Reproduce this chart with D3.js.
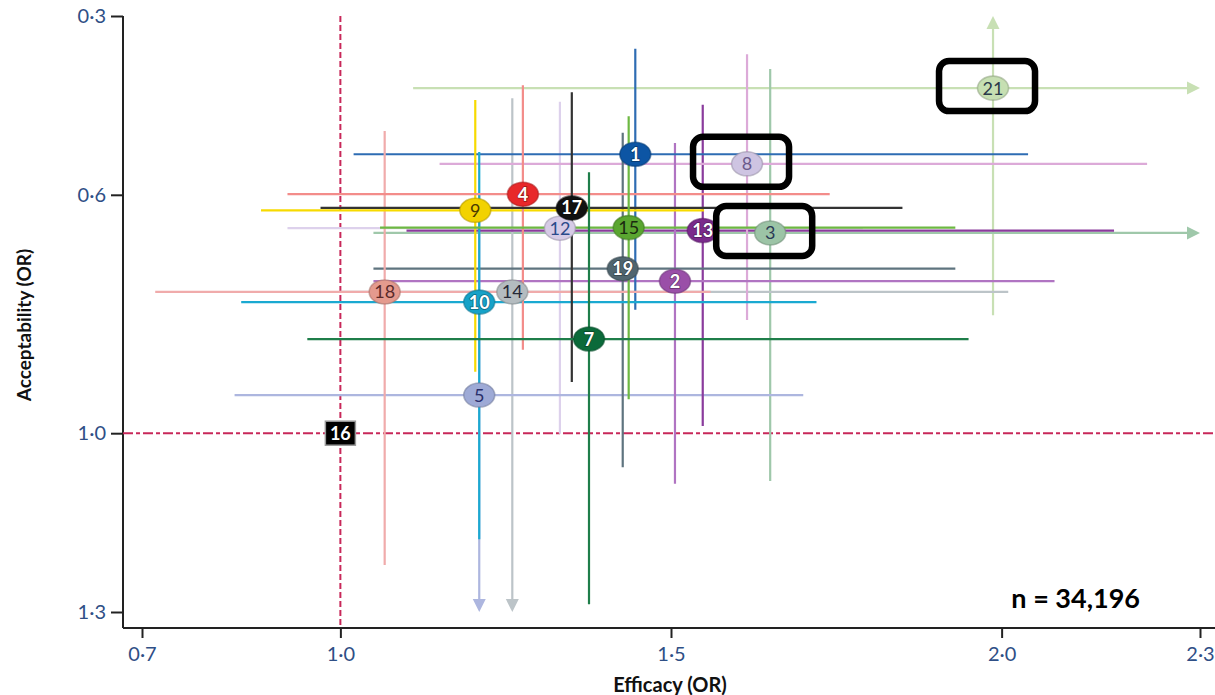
<!DOCTYPE html>
<html>
<head>
<meta charset="utf-8">
<script src="https://cdn.jsdelivr.net/npm/d3@7"></script>
<style>
  html, body { margin: 0; padding: 0; background: #fff; }
  svg { display: block; font-family: Lato, "Open Sans", "DejaVu Sans", sans-serif; }
</style>
</head>
<body>
<svg id="chart" width="1215" height="695"></svg>
<script>
// Treatment numbers and their odds ratios (point estimate with 95% CI)
const treatments   = [1, 2, 3, 4, 5, 7, 8, 9, 10, 12, 13, 14, 15, 16, 17, 18, 19, 21];
const efficacy     = [1.446, 1.506, 1.650, 1.276, 1.210, 1.376, 1.615, 1.204, 1.210, 1.332, 1.548, 1.260, 1.436, 1.00, 1.350, 1.067, 1.427, 1.987];
const efficacyLow  = [1.02, 1.05, 1.05, 0.92, 0.84, 0.95, 1.15, 0.88, 0.85, 0.92, 1.10, 1.00, 1.06, null, 0.97, 0.72, 1.05, 1.11];
const efficacyHigh = [2.04, 2.08, 2.52, 1.74, 1.70, 1.95, 2.22, 1.55, 1.72, 1.79, 2.17, 2.01, 1.93, null, 1.85, 1.56, 1.93, 2.61];
const accept       = [0.532, 0.745, 0.664, 0.599, 0.936, 0.842, 0.548, 0.626, 0.780, 0.656, 0.660, 0.763, 0.655, 1.00, 0.622, 0.763, 0.724, 0.421];
const acceptLow    = [0.355, 0.513, 0.389, 0.416, 0.600, 0.562, 0.364, 0.441, 0.528, 0.444, 0.449, 0.438, 0.468, null, 0.428, 0.493, 0.496, 0.22];
const acceptHigh   = [0.793, 1.085, 1.080, 0.860, 1.42, 1.287, 0.810, 0.897, 1.178, 1.001, 0.988, 1.45, 0.943, null, 0.914, 1.221, 1.057, 0.802];

// Axis ticks
const xTicks = [0.7, 1.0, 1.5, 2.0, 2.3];
const yTicks = [0.3, 0.6, 1.0, 1.3];

// Treatments boxed for emphasis
const highlighted = [21, 8, 3];
const sampleLabel = "n = 34,196";

// Colour palette per treatment: marker fill, CI line, number colour
const palette = {
  1:  { fill: "#0d55a4", line: "#2e6cb3", text: "#ffffff" },
  2:  { fill: "#9a4fa8", line: "#b074c2", text: "#ffffff" },
  3:  { fill: "#9cc4a6", line: "#9fc8aa", text: "#2b3a55" },
  4:  { fill: "#e8282a", line: "#f38c8a", text: "#ffffff" },
  5:  { fill: "#9eaad6", line: "#adb6df", text: "#2a2f6a" },
  7:  { fill: "#0b6a3a", line: "#1f7e4a", text: "#ffffff" },
  8:  { fill: "#cec4e2", line: "#dcaad8", text: "#6a5a8c" },
  9:  { fill: "#f2d200", line: "#f7da00", text: "#4a3a00" },
  10: { fill: "#16a2c8", line: "#1aa9d1", text: "#ffffff" },
  12: { fill: "#d6cbe6", line: "#ddd1ec", text: "#2a4a8a" },
  13: { fill: "#7a2a8c", line: "#8a3b9c", text: "#ffffff" },
  14: { fill: "#b4bcc0", line: "#bcc4c8", text: "#262a38" },
  15: { fill: "#5aa630", line: "#6db842", text: "#1a2a10" },
  16: { fill: "#000000", line: "#000000", text: "#ffffff" },
  17: { fill: "#111111", line: "#333333", text: "#ffffff" },
  18: { fill: "#e49a8e", line: "#f0abab", text: "#5a2a2a" },
  19: { fill: "#50656f", line: "#5f747f", text: "#ffffff" },
  21: { fill: "#c6dfb2", line: "#c8e0b4", text: "#2a3a4a" }
};

// CI lines are layered in this order so the overlaps read correctly
const lineOrder = [21, 3, 14, 12, 5, 13, 8, 2, 1, 19, 18, 10, 9, 4, 17, 15, 7];

const rows = treatments.map((id, i) => ({
  id,
  ex: efficacy[i], exLo: efficacyLow[i], exHi: efficacyHigh[i],
  ac: accept[i], acLo: acceptLow[i], acHi: acceptHigh[i],
  ...palette[id]
}));
const byId = new Map(rows.map(d => [d.id, d]));

const svg = d3.select("#chart");
const x = d3.scaleLinear().domain([0.7, 2.3]).range([142, 1200]);
const y = d3.scaleLinear().domain([0.3, 1.3]).range([16, 612]);
const axisX = 123, axisY = 628, rightEdge = 1215;
const fmt = v => d3.format(".1f")(v).replace(".", "\u00B7");

// Axes
const gx = svg.append("g").attr("transform", `translate(0,${axisY})`)
  .call(d3.axisBottom(x).tickValues(xTicks).tickSize(10).tickFormat(fmt));
const gy = svg.append("g").attr("transform", `translate(${axisX},0)`)
  .call(d3.axisLeft(y).tickValues(yTicks).tickSize(12).tickFormat(fmt));
[gx, gy].forEach(g => {
  g.select(".domain").remove();
  g.selectAll(".tick line").attr("stroke", "#222").attr("stroke-width", 2);
  g.selectAll(".tick text").attr("fill", "#2f4f86").attr("font-size", 20)
    .attr("font-family", "Lato, sans-serif");
});
gx.selectAll(".tick text").attr("dy", "1.0em");
gy.selectAll(".tick text").attr("x", -17);
svg.append("line").attr("x1", axisX).attr("x2", axisX).attr("y1", y(0.3)).attr("y2", axisY)
  .attr("stroke", "#222").attr("stroke-width", 2);
svg.append("line").attr("x1", axisX).attr("x2", rightEdge).attr("y1", axisY).attr("y2", axisY)
  .attr("stroke", "#222").attr("stroke-width", 2);

// Reference lines at OR = 1
svg.append("line").attr("x1", x(1)).attr("x2", x(1)).attr("y1", y(0.3)).attr("y2", axisY)
  .attr("stroke", "#c8285a").attr("stroke-width", 2).attr("stroke-dasharray", "6,3");
svg.append("line").attr("x1", axisX).attr("x2", rightEdge).attr("y1", y(1)).attr("y2", y(1))
  .attr("stroke", "#c8285a").attr("stroke-width", 2).attr("stroke-dasharray", "10,3,4,3");

// Confidence intervals, clipped to the axes with arrowheads where they run off
const lines = svg.append("g");
const [xMin, xMax] = x.domain(), [yMin, yMax] = y.domain();
const head = 13, half = 6.5;
lineOrder.map(id => byId.get(id)).forEach(d => {
  const g = lines.append("g");
  // horizontal: efficacy CI
  const hx1 = x(Math.max(d.exLo, xMin)), hx2 = x(Math.min(d.exHi, xMax));
  const hRight = d.exHi > xMax;
  g.append("line").attr("x1", hx1).attr("x2", hRight ? hx2 - head : hx2)
    .attr("y1", y(d.ac)).attr("y2", y(d.ac))
    .attr("stroke", d.line).attr("stroke-width", 2.2);
  if (hRight) {
    g.append("path")
      .attr("d", `M${hx2},${y(d.ac)} L${hx2 - head},${y(d.ac) - half} L${hx2 - head},${y(d.ac) + half} Z`)
      .attr("fill", d.line);
  }
  // vertical: acceptability CI
  const vTop = d.acLo < yMin, vBot = d.acHi > yMax;
  const vy1 = y(Math.max(d.acLo, yMin)), vy2 = y(Math.min(d.acHi, yMax));
  g.append("line").attr("x1", x(d.ex)).attr("x2", x(d.ex))
    .attr("y1", vTop ? vy1 + head : vy1).attr("y2", vBot ? vy2 - head : vy2)
    .attr("stroke", d.line).attr("stroke-width", 2.2);
  if (vTop) {
    g.append("path")
      .attr("d", `M${x(d.ex)},${vy1} L${x(d.ex) - half},${vy1 + head} L${x(d.ex) + half},${vy1 + head} Z`)
      .attr("fill", d.line);
  }
  if (vBot) {
    g.append("path")
      .attr("d", `M${x(d.ex)},${vy2} L${x(d.ex) - half},${vy2 - head} L${x(d.ex) + half},${vy2 - head} Z`)
      .attr("fill", d.line);
  }
});

// Point markers with treatment numbers
const marks = svg.append("g");
rows.forEach(d => {
  const cx = x(d.ex), cy = y(d.ac);
  if (d.id === 16) {
    marks.append("rect").attr("x", cx - 15).attr("y", cy - 12).attr("width", 30).attr("height", 24)
      .attr("fill", d.fill).attr("stroke", "#9a9a9a").attr("stroke-width", 1.5);
  } else {
    marks.append("ellipse").attr("cx", cx).attr("cy", cy).attr("rx", 15.5).attr("ry", 12)
      .attr("fill", d.fill).attr("stroke", d3.color(d.fill).darker(0.9)).attr("stroke-opacity", 0.55)
      .attr("stroke-width", 1.6);
  }
  const light = d.text === "#ffffff";
  marks.append("text").attr("x", cx).attr("y", cy + 6.5)
    .attr("text-anchor", "middle").attr("font-size", 18)
    .attr("font-weight", light ? 700 : 400)
    .attr("fill", d.text)
    .attr("stroke", light ? d3.color(d.fill).darker(1.2) : "none")
    .attr("stroke-width", light ? 1.5 : 0)
    .attr("paint-order", "stroke")
    .text(d.id);
});

// Emphasis boxes
highlighted.map(id => byId.get(id)).forEach(d => {
  svg.append("rect")
    .attr("x", x(d.ex) - 6 - 48).attr("y", y(d.ac) - 2 - 25)
    .attr("width", 96).attr("height", 50).attr("rx", 10)
    .attr("fill", "none").attr("stroke", "#000").attr("stroke-width", 6.5);
});

// Sample size
svg.append("text").attr("x", 1140).attr("y", 608).attr("text-anchor", "end")
  .attr("font-size", 27).attr("font-weight", 700).attr("fill", "#000")
  .text(sampleLabel);

// Axis titles
svg.append("text").attr("x", 670).attr("y", 692).attr("text-anchor", "middle")
  .attr("font-size", 20).attr("font-weight", 700).attr("fill", "#111")
  .text("Efficacy (OR)");
svg.append("text").attr("transform", "translate(31,325) rotate(-90)").attr("text-anchor", "middle")
  .attr("font-size", 19).attr("font-weight", 700).attr("fill", "#111")
  .text("Acceptability (OR)");
</script>
</body>
</html>
